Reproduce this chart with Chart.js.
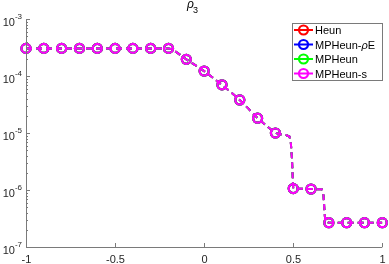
<!DOCTYPE html>
<html>
<head>
<meta charset="utf-8">
<script src="https://cdn.jsdelivr.net/npm/chart.js@4"></script>
<style>body{margin:0;background:#fff}</style>
</head>
<body>
<canvas id="grafico" width="389" height="264"></canvas>
<script>
// Metodos y colores (leyenda)
const metodos = ['Heun', 'MPHeun-ρE', 'MPHeun', 'MPHeun-s'];
const colores = ['#ff0000', '#0000ff', '#00ff00', '#ff00ff'];

// Marcadores cada 0.1
const xMarcas = [-1, -0.9, -0.8, -0.7, -0.6, -0.5, -0.4, -0.3, -0.2, -0.1, 0,
                 0.1, 0.2, 0.3, 0.4, 0.5, 0.6, 0.7, 0.8, 0.9, 1];
const rhoMarcas = [3.05e-4, 3.05e-4, 3.05e-4, 3.05e-4, 3.05e-4, 3.05e-4, 3.05e-4, 3.05e-4, 3.05e-4,
                   1.96e-4, 1.22e-4, 7.0e-5, 3.8e-5, 1.82e-5, 1.0e-5,
                   1.06e-6, 1.04e-6, 2.67e-7, 2.67e-7, 2.67e-7, 2.67e-7];

// Linea discontinua (solucion fina)
const xLinea = [-1, -0.2, -0.18, -0.15, -0.1, -0.05, 0, 0.05, 0.1, 0.15, 0.2, 0.25, 0.3, 0.35,
                0.4, 0.43, 0.46, 0.48, 0.487, 0.493, 0.497, 0.5, 0.6, 0.66, 0.67, 0.675, 0.68, 0.7, 1];
const rhoLinea = [3.05e-4, 3.05e-4, 2.95e-4, 2.55e-4, 1.96e-4, 1.55e-4, 1.22e-4, 9.3e-5, 7.0e-5,
                  5.2e-5, 3.8e-5, 2.65e-5, 1.82e-5, 1.33e-5, 1.0e-5, 9.5e-6, 9.2e-6, 8.6e-6,
                  6.5e-6, 3.5e-6, 1.7e-6, 1.06e-6, 1.04e-6, 1.03e-6, 8.0e-7, 4.5e-7, 2.8e-7, 2.67e-7, 2.67e-7];

// Ticks
const xTicks = [-1, -0.5, 0, 0.5, 1];
const xTickLabels = ['-1', '-0.5', '0', '0.5', '1'];
const yDecadas = [-7, -6, -5, -4, -3];

const fuente = '"Liberation Sans", Arial, sans-serif';

let datasets = [];
metodos.forEach((m, i) => {
  // linea
  datasets.push({
    label: m,
    data: xLinea.map((x, k) => ({x: x, y: rhoLinea[k]})),
    showLine: true,
    borderColor: colores[i],
    borderWidth: 2,
    borderDash: [6, 4],
    pointRadius: 0,
    order: (3 - i) * 2 + 1
  });
  // marcadores
  datasets.push({
    label: m,
    data: xMarcas.map((x, k) => ({x: x, y: rhoMarcas[k]})),
    showLine: false,
    pointStyle: 'circle',
    pointRadius: 4.5,
    pointBorderWidth: 2.2,
    pointBorderColor: colores[i],
    pointBackgroundColor: 'rgba(0,0,0,0)',
    clip: false,
    order: (3 - i) * 2
  });
});

// Ejes, etiquetas, titulo y leyenda estilo MATLAB
const ejesMatlab = {
  id: 'ejesMatlab',
  afterDraw(chart) {
    const ctx = chart.ctx;
    const a = chart.chartArea;
    const sx = chart.scales.x, sy = chart.scales.y;
    ctx.save();
    ctx.strokeStyle = '#7a7a7a';
    ctx.lineWidth = 1;
    ctx.beginPath();
    ctx.moveTo(Math.round(a.left) + 0.5, a.top);
    ctx.lineTo(Math.round(a.left) + 0.5, Math.round(a.bottom) + 0.5);
    ctx.lineTo(a.right, Math.round(a.bottom) + 0.5);
    ctx.stroke();

    // ticks x
    ctx.fillStyle = '#262626';
    ctx.font = '11px ' + fuente;
    ctx.textAlign = 'center';
    ctx.textBaseline = 'alphabetic';
    xTicks.forEach((v, i) => {
      const px = Math.round(sx.getPixelForValue(v)) + 0.5;
      ctx.beginPath();
      ctx.moveTo(px, a.bottom);
      ctx.lineTo(px, a.bottom - 4);
      ctx.stroke();
      ctx.fillText(xTickLabels[i], px, a.bottom + 16);
    });

    // ticks y (log)
    yDecadas.forEach(d => {
      const py = Math.round(sy.getPixelForValue(Math.pow(10, d))) + 0.5;
      ctx.beginPath();
      ctx.moveTo(a.left, py);
      ctx.lineTo(a.left + 4, py);
      ctx.stroke();
      if (d < -3) {
        for (let k = 2; k <= 9; k++) {
          const pm = Math.round(sy.getPixelForValue(k * Math.pow(10, d))) + 0.5;
          ctx.beginPath();
          ctx.moveTo(a.left, pm);
          ctx.lineTo(a.left + 2, pm);
          ctx.stroke();
        }
      }
      ctx.textAlign = 'right';
      ctx.font = '8px ' + fuente;
      const exp = String(d);
      const we = ctx.measureText(exp).width;
      ctx.fillText(exp, 22, py - 1);
      ctx.font = '11px ' + fuente;
      ctx.fillText('10', 22 - we, py + 6);
    });

    // titulo rho_3
    ctx.textAlign = 'left';
    ctx.fillStyle = '#000';
    ctx.font = 'italic 12px ' + fuente;
    ctx.fillText('ρ', 187, 8);
    ctx.font = '9px ' + fuente;
    ctx.fillText('3', 193, 13);

    // leyenda
    const lx = 292, ly = 23, lw = 90, lh = 57;
    ctx.fillStyle = '#fff';
    ctx.fillRect(lx, ly, lw, lh);
    ctx.strokeStyle = '#7a7a7a';
    ctx.strokeRect(lx + 0.5, ly + 0.5, lw, lh);
    const filas = [30, 44.5, 59, 73.5];
    metodos.forEach((m, i) => {
      const y = filas[i];
      ctx.strokeStyle = colores[i];
      ctx.lineWidth = 2;
      ctx.beginPath();
      ctx.moveTo(294, y);
      ctx.lineTo(313, y);
      ctx.stroke();
      ctx.lineWidth = 2.2;
      ctx.beginPath();
      ctx.arc(303.5, y, 4.5, 0, Math.PI * 2);
      ctx.stroke();
      ctx.fillStyle = '#000';
      ctx.font = '11px ' + fuente;
      let tx = 315;
      const partes = m.split('ρ');
      ctx.fillText(partes[0], tx, y + 4);
      if (partes.length > 1) {
        tx += ctx.measureText(partes[0]).width;
        ctx.font = 'italic 11px ' + fuente;
        ctx.fillText('ρ', tx, y + 4);
        tx += ctx.measureText('ρ').width;
        ctx.font = '11px ' + fuente;
        ctx.fillText(partes[1], tx, y + 4);
      }
    });
    ctx.restore();
  }
};

const config = {
  type: 'scatter',
  data: { datasets: datasets },
  options: {
    responsive: false,
    animation: false,
    layout: { padding: { left: 26, right: 3, top: 19, bottom: 17 } },
    plugins: { legend: { display: false }, tooltip: { enabled: false }, title: { display: false } },
    scales: {
      x: { type: 'linear', min: -1, max: 1, display: false },
      y: { type: 'logarithmic', min: 1e-7, max: 1e-3, display: false }
    }
  },
  plugins: [ejesMatlab]
};

var grafico = new Chart(document.getElementById('grafico'), config);
</script>
</body>
</html>
